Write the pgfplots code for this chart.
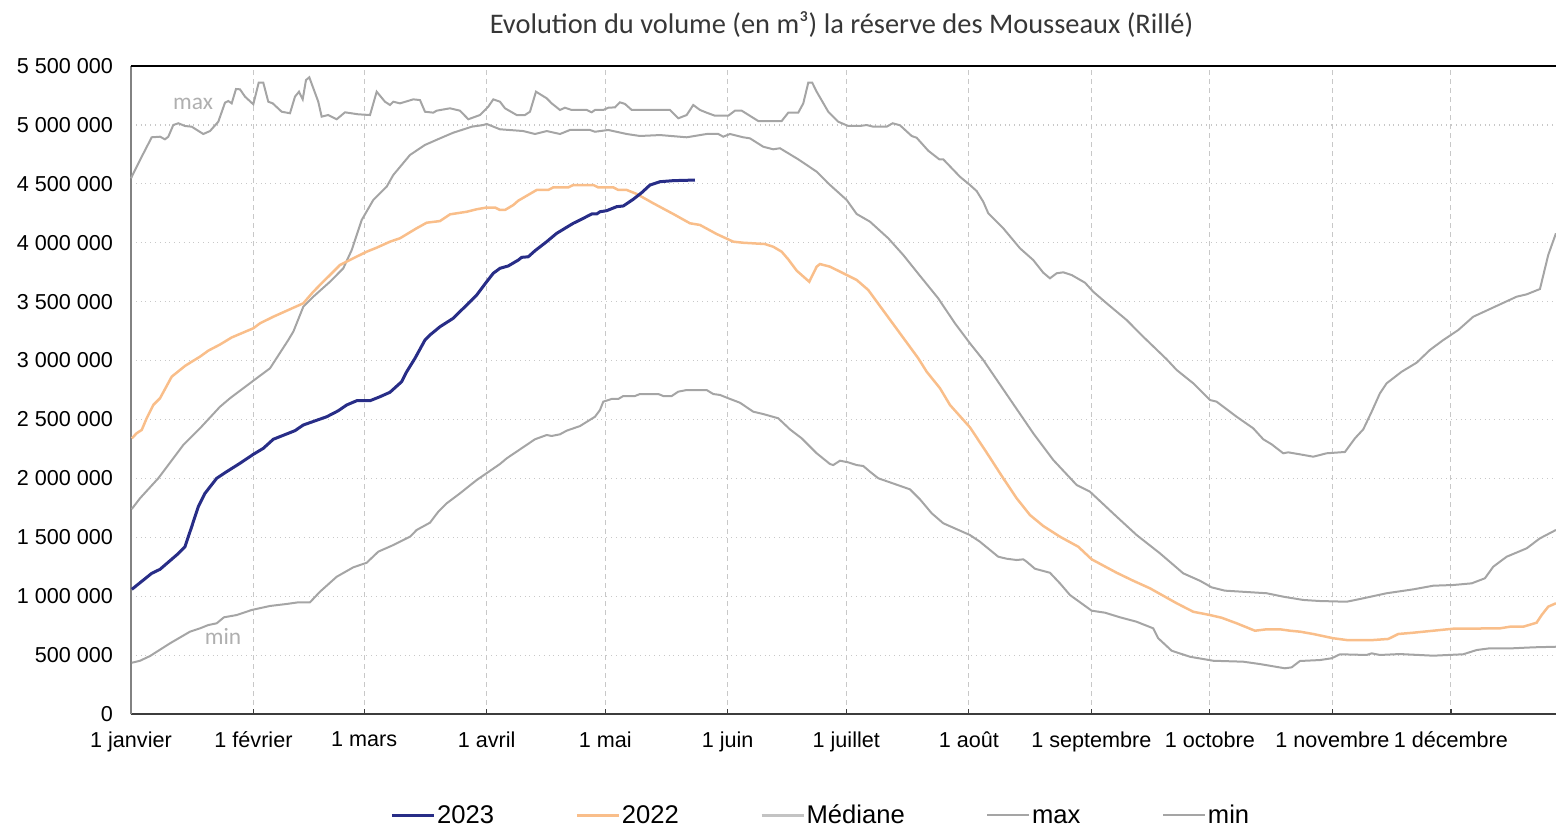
\documentclass[border=0pt]{standalone}
\usepackage{pgfplots}
\pgfplotsset{compat=1.18}
\usepackage{fontspec}
\setmainfont{Liberation Sans}
\newfontfamily\calibri{Carlito}
\definecolor{navy}{RGB}{40,45,135}
\definecolor{peach}{RGB}{249,190,138}
\definecolor{lgray}{RGB}{165,165,165}
\definecolor{medgray}{RGB}{195,195,195}
\definecolor{gridc}{RGB}{200,200,200}
\begin{document}
\begin{tikzpicture}
\path[use as bounding box] (-65.5pt,-56pt) rectangle (712.5pt,357pt);
\begin{axis}[
  at={(0pt,0pt)}, anchor=south west,
  scale only axis, width=712.5pt, height=324pt,
  xmin=0, xmax=360.6, ymin=0, ymax=5500000,
  scaled y ticks=false,
  axis x line*=bottom, axis y line*=left,
  x axis line style={draw={rgb,255:red,60;green,60;blue,60}, line width=0.8pt, -},
  y axis line style={draw={rgb,255:red,130;green,130;blue,130}, line width=0.8pt, -},
  xtick={0,31,59,90,120,151,181,212,243,273,304,334},
  xticklabels={1 janvier,1 février,1 mars,1 avril,1 mai,1 juin,1 juillet,1 août,1 septembre,1 octobre,1 novembre,1 décembre},
  ytick={0,500000,1000000,1500000,2000000,2500000,3000000,3500000,4000000,4500000,5000000,5500000},
  yticklabels={0,500 000,1 000 000,1 500 000,2 000 000,2 500 000,3 000 000,3 500 000,4 000 000,4 500 000,5 000 000,5 500 000},
  tick label style={font=\fontsize{10.8}{12}\selectfont, text=black},
  xtick pos=bottom, tick align=inside, major tick length=2.5pt,
  xtick style={draw={rgb,255:red,60;green,60;blue,60}, line width=0.6pt},
  ytick style={draw=none},
  xticklabel style={yshift=-5.5pt},
  yticklabel style={xshift=-5.5pt},
  xmajorgrids, ymajorgrids,
  x grid style={gridc, dashed, line width=0.5pt, dash pattern=on 2.5pt off 2pt},
  y grid style={gridc, dotted, line width=0.6pt},
  legend columns=5,
  legend style={at={(0.1818,-0.158)}, anchor=west, draw=none, fill=none,
     inner xsep=0pt, inner ysep=0pt,
     font=\fontsize{12.8}{14}\selectfont,
     nodes={inner sep=0.8pt, text=black, text height=1.55ex, text depth=0.25ex},
     /tikz/every even column/.append style={column sep=40pt}},
  legend cell align=left,
  legend image code/.code={\draw[#1] (0pt,0.1ex) -- (21pt,0.1ex);},
  clip=false,
]
\addlegendimage{navy, line width=1.5pt}
\addlegendentry{2023}
\addlegendimage{peach, line width=1.3pt}
\addlegendentry{2022}
\addlegendimage{medgray, line width=1.3pt}
\addlegendentry{Médiane}
\addlegendimage{lgray, line width=1.1pt}
\addlegendentry{max}
\addlegendimage{lgray, line width=1.1pt}
\addlegendentry{min}

% max
\addplot[lgray, line width=1pt, forget plot] coordinates {
(0,4547000)(2.28,4702000)(5.24,4895000)(7.34,4900000)(8.60,4878000)(9.44,4900000)(10.70,4999000)(11.97,5014000)(13.66,4991000)(15.36,4985000)(18.29,4923000)(19.99,4948000)(22.09,5027000)(23.79,5189000)(24.62,5203000)(25.48,5183000)(26.57,5305000)(27.58,5302000)(28.85,5240000)(30.95,5175000)(32.31,5358000)(33.48,5358000)(34.74,5197000)(35.86,5183000)(38.13,5112000)(40.23,5099000)(41.50,5240000)(42.51,5282000)(43.45,5217000)(44.28,5381000)(45.12,5404000)(47.39,5197000)(48.25,5070000)(49.92,5084000)(52.05,5048000)(54.15,5107000)(57.52,5090000)(60.48,5084000)(62.17,5282000)(64.27,5197000)(65.54,5169000)(66.37,5197000)(68.07,5183000)(71.43,5217000)(73.13,5211000)(74.39,5112000)(76.49,5104000)(77.35,5121000)(80.72,5141000)(83.25,5121000)(85.35,5048000)(88.31,5084000)(90.41,5155000)(91.68,5217000)(93.37,5197000)(94.64,5141000)(97.60,5084000)(99.70,5084000)(100.96,5112000)(102.48,5282000)(105.19,5226000)(106.45,5183000)(108.55,5127000)(109.82,5146000)(111.51,5127000)(115.31,5127000)(116.57,5107000)(117.41,5127000)(119.51,5127000)(120.78,5146000)(122.47,5149000)(123.73,5192000)(125.0,5178000)(126.70,5127000)(136.39,5127000)(138.49,5056000)(140.61,5084000)(142.28,5169000)(143.98,5127000)(145.67,5104000)(147.77,5078000)(151.14,5078000)(152.83,5121000)(154.53,5121000)(158.73,5033000)(164.65,5033000)(166.32,5104000)(168.85,5104000)(170.12,5183000)(171.38,5358000)(172.39,5358000)(173.51,5282000)(176.44,5112000)(178.97,5027000)(181.5,4991000)(184.46,4991000)(186.16,4999000)(187.83,4985000)(191.22,4985000)(192.74,5014000)(194.59,4997000)(197.55,4906000)(198.81,4891000)(201.75,4781000)(204.53,4708000)(205.54,4708000)(209.77,4560000)(212.30,4490000)(213.99,4439000)(215.66,4348000)(216.93,4250000)(220.72,4123000)(224.95,3953000)(228.31,3853000)(230.84,3746000)(232.54,3698000)(234.24,3741000)(235.91,3749000)(238.03,3726000)(241.40,3661000)(243.5,3584000)(246.89,3486000)(251.95,3344000)(256.15,3202000)(262.07,3011000)(264.60,2920000)(268.8,2807000)(273.03,2665000)(274.72,2651000)(279.78,2523000)(283.98,2425000)(286.51,2332000)(288.64,2289000)(291.57,2213000)(292.84,2221000)(295.80,2204000)(299.17,2184000)(302.56,2213000)(307.19,2224000)(309.72,2340000)(311.82,2416000)(313.95,2566000)(316.04,2722000)(317.74,2807000)(321.53,2905000)(325.33,2982000)(328.69,3090000)(332.06,3174000)(335.86,3259000)(339.65,3372000)(350.63,3542000)(353.16,3562000)(356.53,3607000)(358.63,3896000)(360.58,4080000)
};
% median
\addplot[lgray, line width=1pt, forget plot] coordinates {
(0.2,1740000)(2.28,1831000)(6.91,2001000)(13.23,2283000)(17.46,2425000)(22.52,2608000)(25.05,2680000)(30.95,2829000)(35.17,2934000)(39.80,3174000)(41.07,3245000)(43.60,3457000)(46.13,3542000)(50.36,3669000)(53.72,3783000)(55.85,3938000)(58.38,4193000)(61.31,4363000)(64.70,4476000)(66.37,4575000)(70.60,4745000)(74.39,4830000)(78.19,4886000)(81.55,4934000)(83.68,4957000)(86.21,4985000)(89.14,4999000)(90.0,5008000)(93.37,4963000)(99.27,4948000)(102.23,4923000)(105.19,4948000)(108.55,4923000)(111.08,4957000)(116.14,4957000)(117.41,4942000)(120.78,4957000)(125.43,4923000)(128.80,4906000)(133.86,4914000)(140.61,4895000)(145.67,4923000)(148.61,4923000)(149.87,4900000)(151.57,4923000)(154.93,4895000)(156.63,4886000)(159.99,4815000)(162.52,4793000)(164.22,4802000)(168.85,4708000)(173.51,4603000)(176.44,4504000)(181.10,4363000)(183.63,4244000)(186.99,4179000)(191.62,4038000)(195.42,3896000)(198.81,3754000)(204.27,3528000)(208.50,3316000)(212.30,3146000)(215.66,3005000)(222.85,2651000)(228.31,2383000)(233.38,2156000)(239.29,1944000)(242.66,1887000)(249.42,1675000)(254.48,1519000)(260.37,1364000)(266.27,1194000)(270.5,1131000)(273.46,1075000)(276.82,1047000)(287.37,1025000)(291.57,996000)(296.63,968000)(300.86,959000)(307.62,953000)(310.98,976000)(317.74,1025000)(324.47,1058000)(329.53,1089000)(334.59,1095000)(339.25,1109000)(342.61,1152000)(344.71,1250000)(348.10,1335000)(353.16,1406000)(356.53,1491000)(360.58,1562000)
};
% min
\addplot[lgray, line width=1pt, forget plot] coordinates {
(0.2,435000)(2.28,452000)(4.81,492000)(9.87,600000)(14.93,699000)(17.46,727000)(19.56,755000)(21.69,770000)(23.53,821000)(26.75,840000)(30.54,883000)(35.17,917000)(39.40,934000)(42.33,948000)(45.29,948000)(47.82,1038000)(52.05,1165000)(56.25,1245000)(59.64,1284000)(62.58,1378000)(66.37,1434000)(70.60,1505000)(72.29,1562000)(75.66,1624000)(77.76,1717000)(79.88,1788000)(83.25,1873000)(87.48,1986000)(93.37,2122000)(95.07,2170000)(102.23,2332000)(105.19,2368000)(106.45,2360000)(108.55,2374000)(110.25,2405000)(113.61,2444000)(117.41,2523000)(118.67,2580000)(119.51,2651000)(121.64,2674000)(123.31,2674000)(124.57,2699000)(127.53,2699000)(128.80,2716000)(133.43,2716000)(134.69,2699000)(136.82,2699000)(138.49,2736000)(140.61,2750000)(145.67,2750000)(147.34,2716000)(149.04,2708000)(151.14,2680000)(154.10,2642000)(157.46,2566000)(159.99,2546000)(163.79,2510000)(166.75,2416000)(169.71,2340000)(173.51,2213000)(176.87,2122000)(177.71,2113000)(179.40,2150000)(181.50,2136000)(183.63,2113000)(185.30,2105000)(186.99,2057000)(189.09,2001000)(197.11,1907000)(199.65,1822000)(202.61,1704000)(205.54,1619000)(212.30,1519000)(214.83,1462000)(219.46,1335000)(221.59,1318000)(224.12,1307000)(225.79,1313000)(226.64,1293000)(228.74,1233000)(232.54,1199000)(235.07,1109000)(237.60,1010000)(243.09,877000)(246.46,860000)(250.25,821000)(254.48,783000)(258.68,727000)(259.94,643000)(263.34,537000)(267.97,486000)(273.87,452000)(281.46,444000)(285.68,424000)(292.0,388000)(293.7,396000)(295.80,450000)(300.86,458000)(303.82,473000)(305.93,507000)(312.68,501000)(313.95,515000)(316.04,501000)(321.10,509000)(329.53,495000)(337.12,507000)(340.51,543000)(343.88,558000)(349.77,558000)(354.83,566000)(360.58,571000)
};
% 2022
\addplot[peach, line width=1.25pt, forget plot] coordinates {
(0.2,2340000)(1.44,2383000)(2.71,2411000)(3.97,2510000)(5.64,2623000)(7.34,2680000)(10.30,2863000)(13.66,2954000)(15.36,2990000)(17.46,3033000)(19.56,3084000)(22.52,3136000)(25.48,3196000)(30.95,3274000)(32.64,3316000)(36.01,3372000)(39.80,3429000)(43.60,3486000)(46.13,3584000)(48.25,3656000)(51.19,3754000)(52.88,3811000)(56.25,3868000)(59.64,3924000)(62.17,3958000)(65.54,4009000)(68.07,4038000)(72.29,4123000)(74.82,4170000)(78.19,4184000)(80.72,4241000)(84.95,4263000)(87.48,4284000)(90.0,4299000)(92.11,4299000)(93.37,4278000)(94.64,4278000)(96.74,4320000)(98.0,4357000)(102.66,4448000)(105.59,4448000)(106.86,4470000)(110.65,4470000)(111.92,4490000)(116.98,4490000)(118.24,4470000)(122.04,4470000)(123.31,4448000)(125.43,4448000)(127.96,4414000)(132.16,4335000)(137.22,4244000)(141.45,4165000)(143.98,4151000)(148.20,4074000)(152.40,4009000)(154.93,4000000)(160.42,3989000)(162.52,3966000)(164.65,3924000)(166.32,3859000)(168.45,3763000)(171.63,3669000)(173.51,3797000)(174.34,3819000)(176.87,3797000)(180.24,3741000)(183.63,3684000)(186.56,3599000)(189.52,3463000)(194.59,3231000)(199.22,3019000)(201.35,2905000)(204.71,2765000)(207.24,2623000)(212.30,2433000)(216.93,2198000)(220.72,2001000)(224.12,1831000)(227.48,1689000)(230.84,1596000)(235.07,1505000)(239.70,1420000)(243.09,1313000)(249.42,1199000)(253.62,1131000)(257.84,1067000)(264.60,940000)(268.80,868000)(273.03,840000)(275.99,817000)(279.78,770000)(284.41,707000)(287.37,719000)(290.74,719000)(293.27,707000)(295.80,699000)(299.17,679000)(304.23,643000)(307.62,628000)(314.35,628000)(318.15,637000)(320.68,679000)(324.47,690000)(329.53,707000)(334.59,724000)(346.40,727000)(348.94,741000)(352.30,741000)(355.69,775000)(356.96,840000)(358.63,911000)(360.58,940000)
};
% 2023
\addplot[navy, line width=1.5pt, forget plot] coordinates {
(0.2,1058000)(2.28,1114000)(5.24,1194000)(7.34,1228000)(11.56,1350000)(13.66,1420000)(15.36,1590000)(17.03,1760000)(18.72,1873000)(21.69,2001000)(23.79,2048000)(27.58,2128000)(30.95,2204000)(33.48,2255000)(36.01,2332000)(39.40,2377000)(41.50,2405000)(43.60,2453000)(49.52,2523000)(52.46,2574000)(54.58,2623000)(57.11,2659000)(60.48,2659000)(63.01,2693000)(65.54,2731000)(68.50,2821000)(69.76,2905000)(71.86,3019000)(74.39,3174000)(75.66,3217000)(78.19,3287000)(81.55,3359000)(84.08,3443000)(87.48,3556000)(90.0,3669000)(91.68,3741000)(93.37,3783000)(95.47,3803000)(98.0,3853000)(98.86,3876000)(100.53,3881000)(102.23,3932000)(105.19,4009000)(107.72,4080000)(111.92,4165000)(114.45,4207000)(116.57,4244000)(117.84,4244000)(118.67,4263000)(120.37,4272000)(122.90,4306000)(124.57,4312000)(127.10,4369000)(129.23,4425000)(131.33,4490000)(133.86,4518000)(137.22,4527000)(142.71,4532000)
};
\node[font=\calibri\fontsize{11.7}{13}\selectfont, text={rgb,255:red,175;green,175;blue,175}] at (axis cs:15.7,5177000) {max};
\node[font=\calibri\fontsize{11.7}{13}\selectfont, text={rgb,255:red,175;green,175;blue,175}] at (axis cs:23.3,662000) {min};
\draw[black, line width=1.1pt] (rel axis cs:0,1) -- (rel axis cs:1,1);
\node[font=\calibri\fontsize{14.2}{16}\selectfont, text={rgb,255:red,55;green,55;blue,55}] at (rel axis cs:0.4986,1.0648) {Evolution du volume (en m³) la réserve des Mousseaux (Rillé)};
\end{axis}
\end{tikzpicture}
\end{document}
